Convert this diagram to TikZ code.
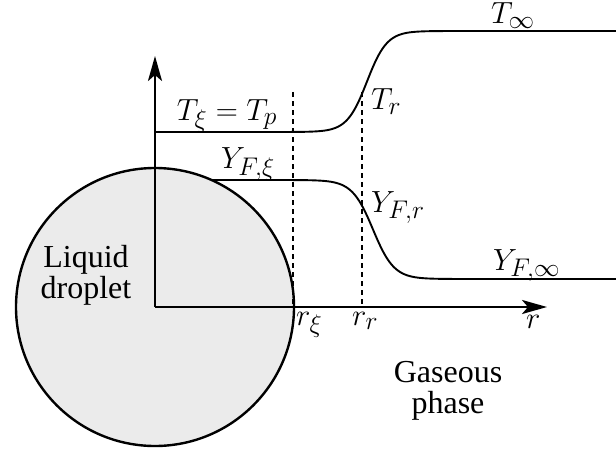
\documentclass[tikz,border=0pt]{standalone}
\usepackage{fontspec}
\usepackage{graphicx}
\setmainfont{Liberation Serif}
\usetikzlibrary{arrows.meta}
\newcommand{\mth}[1]{\scalebox{1.23}{$#1$}}
\begin{document}
\begin{tikzpicture}[x=1pt,y=-1pt,
  lbl/.style={inner sep=0pt,outer sep=0pt,font=\fontsize{24.88}{24.88}\selectfont},
  txt/.style={inner sep=0pt,outer sep=0pt,align=center,anchor=base,font=\fontsize{32}{29}\selectfont},
  axisline/.style={line width=2.6pt,-{Stealth[length=25pt,width=14pt,inset=6pt]}},
  prof/.style={line width=1.9pt},
  guide/.style={line width=1.7pt,dash pattern=on 5pt off 4pt}]
\useasboundingbox (0,0) rectangle (616,452);
% droplet
\node[circle,draw,line width=2.4pt,fill=black!8,minimum size=278pt,inner sep=0pt] (drop) at (155,307) {};
\coordinate (O) at (155,307);
\coordinate (ytip) at (155,56);
\coordinate (xtip) at (547,307);
% guides
\coordinate (g1t) at (293,92);
\coordinate (g1b) at (293,307);
\coordinate (g2t) at (362,92);
\coordinate (g2b) at (362,307);
\draw[guide] (g1t) -- (g1b);
\draw[guide] (g2t) -- (g2b);
% axes
\draw[axisline] (O) -- (ytip);
\draw[axisline] (O) -- (xtip);
% T profile
\draw[prof] plot[domain=155:616,samples=240,smooth] (\x,{81.5-50.5*tanh(max(-4,min(4,(\x-367)/20)))});
% Y profile
\draw[prof] plot[domain=212:616,samples=240,smooth] (\x,{229.5+49.5*tanh(max(-4,min(4,(\x-373)/21)))});
% labels
\node[lbl,anchor=base] (Tinf) at (513,24) {\mth{T_\infty}};
\node[lbl,anchor=base] (Txi) at (227,120) {\mth{T_\xi = T_p}};
\node[lbl,anchor=base west] (Tr) at (371,110) {\mth{T_r}};
\node[lbl,anchor=base west] (Yxi) at (221,168) {\mth{Y_{F,\xi}}};
\node[lbl,anchor=base west] (Yr) at (371,212) {\mth{Y_{F,r}}};
\node[lbl,anchor=base west] (Yinf) at (493,270) {\mth{Y_{F,\infty}}};
\node[lbl,anchor=base west] (rxi) at (296,325) {\mth{r_\xi}};
\node[lbl,anchor=base west] (rr) at (352,325) {\mth{r_r}};
\node[lbl,anchor=base west] (rlab) at (526,328) {\mth{r}};
\node[txt] (liq) at (86,298) {Liquid\\droplet};
\node[txt] (gas) at (448,413) {Gaseous\\[2pt]phase};
\end{tikzpicture}
\end{document}
